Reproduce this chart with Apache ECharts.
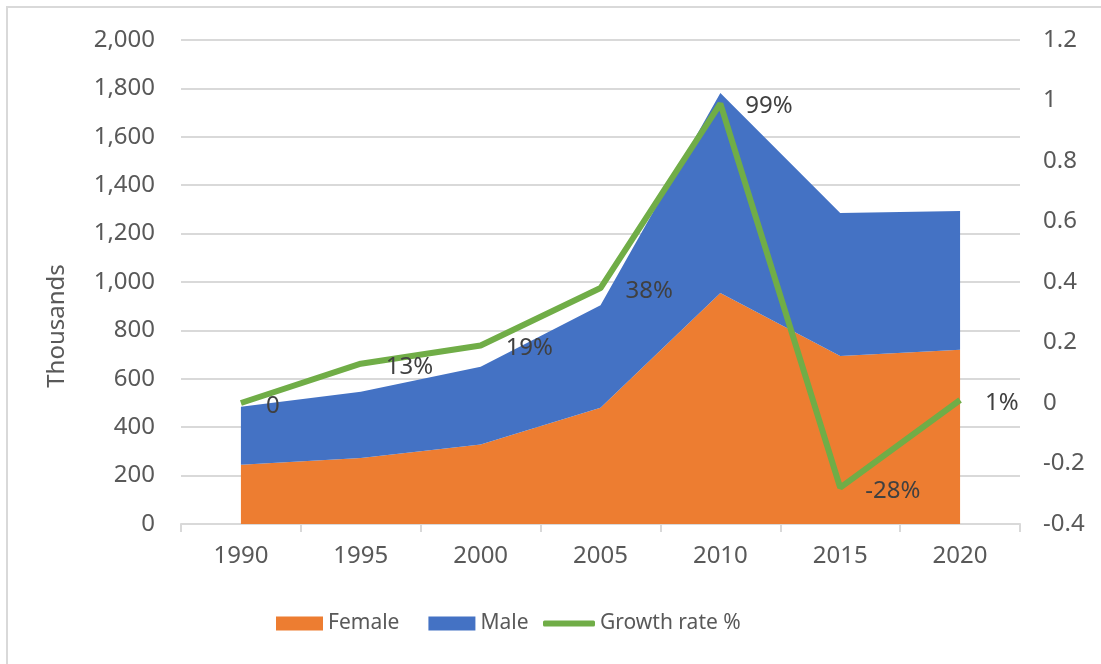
<!DOCTYPE html>
<html>
<head>
<meta charset="utf-8">
<script src="https://cdn.jsdelivr.net/npm/echarts@6/dist/echarts.min.js"></script>
<style>
  html, body { margin: 0; padding: 0; background: #fff; }
  #chart { position: absolute; left: 0; top: 0; width: 1101px; height: 664px; }
  .frame {
    position: absolute; left: 6px; top: 6px; width: 1110px; height: 680px;
    border: 2px solid #d9d9d9; pointer-events: none;
  }
</style>
</head>
<body>
<div id="chart"></div>
<div class="frame"></div>
<script>
// data
const years = ["1990", "1995", "2000", "2005", "2010", "2015", "2020"];
const female = [245, 273, 328, 480, 955, 694, 720];
const male = [240, 274, 322, 424, 826, 591, 573];
const growth = [0, 0.13, 0.19, 0.38, 0.99, -0.28, 0.01];

const font = "Noto Sans";
const grey = "#595959";

let chart = echarts.init(document.getElementById("chart"));

let option = {
  animation: false,
  textStyle: { fontFamily: font },
  color: ["#ED7D31", "#4472C4", "#70AD47"],
  grid: { left: 181, right: 81, top: 40, bottom: 140 },
  legend: [
    {
      left: 271,
      top: 608,
      itemWidth: 47,
      itemHeight: 14,
      itemGap: 29,
      textStyle: { fontFamily: font, fontSize: 21, color: grey },
      data: [
        { name: "Female", icon: "rect" },
        { name: "Male", icon: "rect" },
      ],
    },
    {
      left: 538,
      top: 608,
      itemWidth: 52,
      itemHeight: 6,
      textStyle: { fontFamily: font, fontSize: 21, color: grey },
      data: [{ name: "Growth rate %", icon: "roundRect" }],
    },
  ],
  graphic: [
    {
      type: "text",
      x: 57,
      y: 326,
      rotation: Math.PI / 2,
      style: {
        text: "Thousands",
        fontFamily: font,
        fontSize: 24,
        fill: grey,
        align: "center",
        verticalAlign: "middle",
      },
    },
  ],
  xAxis: {
    type: "category",
    data: years,
    boundaryGap: true,
    axisLine: { lineStyle: { color: "#d9d9d9", width: 2 } },
    axisTick: { show: true, length: 8, lineStyle: { color: "#d9d9d9", width: 2 } },
    axisLabel: { fontSize: 24, color: grey, margin: 20 },
  },
  yAxis: [
    {
      type: "value",
      min: 0,
      max: 2000,
      interval: 200,
      axisLine: { show: false },
      axisTick: { show: false },
      splitLine: { lineStyle: { color: "#d9d9d9", width: 2 } },
      axisLabel: {
        fontSize: 24,
        color: grey,
        margin: 26,
        formatter: (v) => v.toLocaleString("en-US"),
      },
    },
    {
      type: "value",
      min: -0.4,
      max: 1.2,
      interval: 0.2,
      axisLine: { show: false },
      axisTick: { show: false },
      splitLine: { show: false },
      axisLabel: { fontSize: 24, color: grey, margin: 23 },
    },
  ],
  series: [
    {
      name: "Female",
      type: "line",
      stack: "total",
      data: female,
      symbol: "none",
      lineStyle: { width: 0 },
      areaStyle: { opacity: 1 },
    },
    {
      name: "Male",
      type: "line",
      stack: "total",
      data: male,
      symbol: "none",
      lineStyle: { width: 0 },
      areaStyle: { opacity: 1 },
    },
    {
      name: "Growth rate %",
      type: "line",
      yAxisIndex: 1,
      data: growth,
      symbol: "circle",
      symbolSize: 0,
      showSymbol: true,
      z: 5,
      lineStyle: { width: 6 },
      label: {
        show: true,
        position: "right",
        distance: 25,
        offset: [0, 3],
        fontSize: 24,
        color: "#404040",
        formatter: (p) => (p.value === 0 ? "0" : Math.round(p.value * 100) + "%"),
      },
    },
  ],
};

chart.setOption(option);
</script>
</body>
</html>
